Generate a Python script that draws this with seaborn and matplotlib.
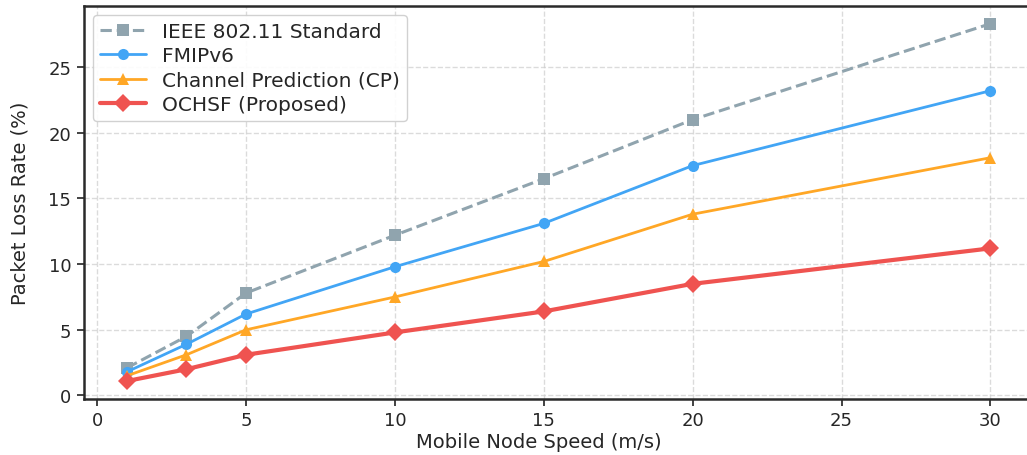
import matplotlib
matplotlib.use("Agg")
import matplotlib.pyplot as plt
import seaborn as sns
import pandas as pd

speeds = [1, 3, 5, 10, 15, 20, 30]
ieee = [2.1, 4.5, 7.8, 12.2, 16.5, 21.0, 28.3]
fmipv6 = [1.8, 3.9, 6.2, 9.8, 13.1, 17.5, 23.2]
cp = [1.5, 3.1, 5.0, 7.5, 10.2, 13.8, 18.1]
ochsf = [1.1, 2.0, 3.1, 4.8, 6.4, 8.5, 11.2]
labels = ["IEEE 802.11 Standard", "FMIPv6", "Channel Prediction (CP)", "OCHSF (Proposed)"]

sns.set_style("whitegrid", {"grid.linestyle": "--", "axes.edgecolor": "#222222"})
plt.rcParams['font.family'] = ['DejaVu Sans']

fig = plt.figure(figsize=(10.27, 4.56), dpi=100)
ax = fig.add_axes([0.0815, 0.123, 0.925, 0.862])

styles = [
    dict(color="#90A4AE", marker="s", linestyle="--", linewidth=2.2, markersize=8),
    dict(color="#42A5F5", marker="o", linestyle="-", linewidth=2.0, markersize=8),
    dict(color="#FFA726", marker="^", linestyle="-", linewidth=2.0, markersize=8),
    dict(color="#EF5350", marker="D", linestyle="-", linewidth=3.0, markersize=9),
]
for vals, lab, st in zip([ieee, fmipv6, cp, ochsf], labels, styles):
    df = pd.DataFrame({"speed": speeds, "loss": vals})
    sns.lineplot(data=df, x="speed", y="loss", ax=ax, label=lab,
                 markeredgewidth=0, **st)

ax.grid(True, linestyle="--", color="#cccccc", alpha=0.7, linewidth=1.0)
for s in ax.spines.values():
    s.set_linewidth(1.8)
    s.set_color("#2a2a2a")
ax.spines["right"].set_visible(False)
ax.tick_params(axis="both", which="major", labelsize=13, length=5, width=1.2,
               color="#222222", bottom=True, left=True, pad=4)
ax.set_xticks([0, 5, 10, 15, 20, 25, 30])
ax.set_yticks([0, 5, 10, 15, 20, 25])
ax.set_xlabel("Mobile Node Speed (m/s)", fontsize=14)
ax.xaxis.set_label_coords(0.479, -0.085)
ax.set_ylabel("Packet Loss Rate (%)", fontsize=14)
ax.yaxis.set_label_coords(-0.057, 0.5)
ax.margins(x=0.05, y=0.05)

leg = ax.legend(loc="upper left", fontsize=14.5, frameon=True, fancybox=True,
                framealpha=0.9, edgecolor="#cccccc", borderpad=0.35,
                labelspacing=0.27, handlelength=2.3, borderaxespad=0.45)

fig.savefig("out.png", dpi=100)
